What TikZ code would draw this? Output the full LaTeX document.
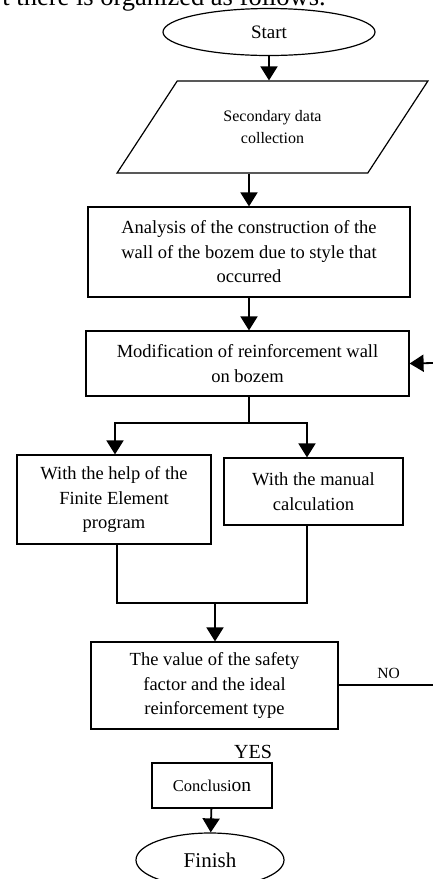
\documentclass[tikz,border=0pt]{standalone}
\usepackage{fontspec}
\setmainfont{Liberation Serif}
\usepackage{tikz}
\usetikzlibrary{
    positioning,
    arrows.meta,
    shapes.geometric,
}

\begin{document}
\begin{tikzpicture}[
    x=1pt, y=-1pt,
    box/.style={rectangle, draw, line width=1.2pt, align=center, inner sep=0pt,
                font=\fontsize{18.5}{24.5}\selectfont},
    term/.style={ellipse, draw, line width=1.2pt, inner sep=0pt},
    io/.style={trapezium, trapezium left angle=50, trapezium right angle=130,
               trapezium stretches=true, draw, line width=1.2pt, align=center,
               font=\fontsize{16}{21.5}\selectfont},
    arrow/.style={-{Triangle[length=14pt, width=17pt]}, line width=1.8pt},
    line/.style={line width=1.8pt},
    note/.style={inner sep=0pt},
]
    \useasboundingbox (0,0) rectangle (433,879);

    % Text above
    \node[note, anchor=base east, font=\fontsize{26.5}{28}\selectfont] (intro) at (326,5.5)
        {t there is organized as follows.};

    % Boxes
    \node[term, minimum width=212pt, minimum height=47pt, font=\fontsize{19}{20}\selectfont]
        (start) at (269,32) {Start};
    \node[io, minimum width=311pt, minimum height=92pt] (data) at (272.5,127)
        {Secondary data\\collection};
    \node[box, minimum width=322pt, minimum height=90pt] (analysis) at (249,252)
        {Analysis of the construction of the\\wall of the bozem due to style that\\occurred};
    \node[box, minimum width=323pt, minimum height=65pt] (modify) at (247.5,363.5)
        {Modification of reinforcement wall\\on bozem};
    \node[box, minimum width=194pt, minimum height=89pt] (fem) at (114,499.5)
        {With the help of the\\Finite Element\\program};
    \node[box, minimum width=179pt, minimum height=67pt] (manual) at (313.5,491.5)
        {With the manual\\calculation};
    \node[box, minimum width=247pt, minimum height=87pt] (value) at (214.5,685.5)
        {The value of the safety\\factor and the ideal\\reinforcement type};
    \node[box, minimum width=120pt, minimum height=45pt, font=\fontsize{16.5}{20}\selectfont]
        (concl) at (212,785.5) {Conclusi{\fontsize{19.5}{20}\selectfont on}};
    \node[term, minimum width=148pt, minimum height=54pt, font=\fontsize{21}{22}\selectfont]
        (finish) at (210,860) {Finish};

    % Split, join and loop ends
    \coordinate (split) at (249,423);
    \coordinate (join) at (215,603);
    \coordinate (noend) at (433,685);
    \coordinate (back) at (433,363);

    % Arrows
    \draw[arrow] (start.south) -- (start.south |- data.north);
    \draw[arrow] (data.south -| analysis.north) -- (analysis.north);
    \draw[arrow] (analysis.south) -- (analysis.south |- modify.north);
    \draw[line] (modify.south -| split) -- (split);
    \draw[arrow] (split) -| ([xshift=1pt]fem.north);
    \draw[arrow] (split) -| ([xshift=-6.5pt]manual.north);
    \draw[line] ([xshift=3pt]fem.south) |- (join);
    \draw[line] ([xshift=-6.5pt]manual.south) |- (join);
    \draw[arrow] (join) -- (join |- value.north);
    \draw[line width=1.2pt] (value.east |- noend) -- node[above=2pt, pos=0.53,
        font=\fontsize{15.5}{16}\selectfont] (no) {NO} (noend);
    \draw[arrow] (back) -- (modify.east);
    \draw[arrow] (concl) -- (finish);

    % Labels
    \node[note, font=\fontsize{20}{21}\selectfont] (yes) at (253,752) {YES};
\end{tikzpicture}
\end{document}
